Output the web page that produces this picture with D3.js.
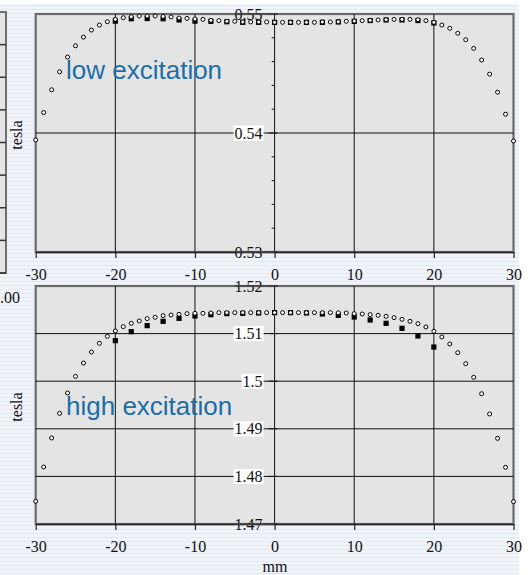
<!DOCTYPE html>
<html>
<head>
<meta charset="utf-8">
<script src="https://cdn.jsdelivr.net/npm/d3@7"></script>
<style>
  body { margin: 0; background: #fff; }
  svg { display: block; }
</style>
</head>
<body>
<div id="chartArea"></div>
<script>
// positions along the gap, mm
var mmAll = [-30, -29, -28, -27, -26, -25, -24, -23, -22, -21, -20, -19, -18, -17, -16, -15, -14, -13, -12, -11,
  -10, -9, -8, -7, -6, -5, -4, -3, -2, -1, 0, 1, 2, 3, 4, 5, 6, 7, 8, 9,
  10, 11, 12, 13, 14, 15, 16, 17, 18, 19, 20, 21, 22, 23, 24, 25, 26, 27, 28, 29, 30];
var mmEven = [-20, -18, -16, -14, -12, -10, -8, -6, -4, -2, 0, 2, 4, 6, 8, 10, 12, 14, 16, 18, 20];

// low excitation, tesla
var lowCircles = [0.53942, 0.54172, 0.54363, 0.54514, 0.54638, 0.54733, 0.54806, 0.54865, 0.54907, 0.54935,
  0.54955, 0.54969, 0.54977, 0.54983, 0.54983, 0.54983, 0.54980, 0.54975, 0.54966, 0.54963,
  0.54958, 0.54955, 0.54947, 0.54944, 0.54939, 0.54939, 0.54933, 0.54933, 0.54933, 0.54933,
  0.54930, 0.54930, 0.54930, 0.54930, 0.54930, 0.54930, 0.54933, 0.54933, 0.54935, 0.54939,
  0.54941, 0.54944, 0.54947, 0.54950, 0.54952, 0.54955, 0.54955, 0.54955, 0.54952, 0.54944,
  0.54930, 0.54907, 0.54880, 0.54838, 0.54784, 0.54711, 0.54613, 0.54495, 0.54343, 0.54158, 0.53933];
var lowSquares = [0.5494, 0.5496, 0.54962, 0.5496, 0.5495, 0.5494, 0.54938, 0.54935, 0.5493, 0.5493, 0.5493,
  0.5493, 0.5493, 0.5493, 0.54933, 0.54938, 0.54945, 0.5495, 0.5495, 0.54945, 0.54925];

// high excitation, tesla
var highCircles = [1.47477, 1.48197, 1.48807, 1.49325, 1.49752, 1.50102, 1.50382, 1.50613, 1.50796, 1.50943,
  1.51055, 1.51146, 1.51216, 1.51265, 1.51314, 1.51342, 1.51377, 1.51391, 1.51405, 1.51419,
  1.51426, 1.51426, 1.51433, 1.5144, 1.5144, 1.5144, 1.5144, 1.5144, 1.5144, 1.5144,
  1.5144, 1.5144, 1.5144, 1.5144, 1.5144, 1.5144, 1.5144, 1.5144, 1.51437, 1.51433,
  1.51419, 1.51412, 1.51398, 1.51384, 1.51363, 1.51335, 1.513, 1.51258, 1.51209, 1.51139,
  1.51048, 1.50929, 1.50782, 1.50599, 1.50368, 1.50082, 1.49737, 1.49311, 1.488, 1.48191, 1.47469];
var highSquares = [1.50852, 1.5104, 1.51167, 1.51258, 1.51321, 1.5137, 1.51398, 1.5142, 1.51426, 1.51433, 1.5144,
  1.5144, 1.51433, 1.51412, 1.51384, 1.51349, 1.51286, 1.51216, 1.51111, 1.5095, 1.50718];

var xTicks = [-30, -20, -10, 0, 10, 20, 30];
var xGrid = [-20, -10, 10, 20];
var lowTicks = [0.53, 0.54, 0.55];
var lowTickLabels = ["0.53", "0.54", "0.55"];
var lowMinor = [0.532, 0.534, 0.536, 0.538, 0.542, 0.544, 0.546, 0.548];
var lowGrid = [0.54];
var highTicks = [1.47, 1.48, 1.49, 1.5, 1.51, 1.52];
var highTickLabels = ["1.47", "1.48", "1.49", "1.5", "1.51", "1.52"];
var highGrid = [1.48, 1.49, 1.5, 1.51];

var W = 529, H = 575;
var serif = "'Liberation Serif', 'Times New Roman', serif";

var svg = d3.select("#chartArea").append("svg").attr("width", W).attr("height", H);

// striped page background
var pat = svg.append("defs").append("pattern")
  .attr("id", "stripes").attr("patternUnits", "userSpaceOnUse")
  .attr("width", 8).attr("height", 4);
pat.append("rect").attr("width", 8).attr("height", 4).attr("fill", "#f1f3f6");
pat.append("rect").attr("y", 1).attr("width", 8).attr("height", 1).attr("fill", "#dfeaf7");

svg.append("rect").attr("width", W).attr("height", H).attr("fill", "#fff");
svg.append("rect").attr("y", 4).attr("width", 519).attr("height", H - 4).attr("fill", "url(#stripes)");

// edge of the neighbouring chart, cut off on the left
var leftY = d3.scaleLinear().domain([0, 8]).range([12, 273]);
svg.append("rect").attr("x", -10).attr("y", 12).attr("width", 16).attr("height", 261)
  .attr("fill", "#e4e4e4").attr("stroke", "#6e6e6e").attr("stroke-width", 2);
svg.append("g").selectAll("line").data([1, 2, 3, 4, 5, 6, 7, 8]).enter().append("line")
  .attr("x1", 0).attr("x2", 6)
  .attr("y1", function (d) { return leftY(d); })
  .attr("y2", function (d) { return leftY(d); })
  .attr("stroke", "#333").attr("stroke-width", 1.5);
svg.append("text").attr("x", 0).attr("y", 303)
  .style("font-family", serif).style("font-size", "16px").attr("fill", "#111").text(".00");

var x = d3.scaleLinear().domain([-30, 30]).range([35.7, 513.5]);

function drawPanel(cfg) {
  var y = d3.scaleLinear().domain(cfg.domain).range([cfg.bottom, cfg.top]);
  var g = svg.append("g");

  g.append("rect")
    .attr("x", x(-30)).attr("y", cfg.top)
    .attr("width", x(30) - x(-30)).attr("height", cfg.bottom - cfg.top)
    .attr("fill", "#e4e4e4").attr("stroke", "#6a6a6a").attr("stroke-width", 2.2);

  // grid
  g.selectAll(".vgrid").data(xGrid).enter().append("line")
    .attr("x1", function (d) { return x(d); }).attr("x2", function (d) { return x(d); })
    .attr("y1", cfg.top).attr("y2", cfg.bottom)
    .attr("stroke", "#111").attr("stroke-width", 1);
  g.selectAll(".hgrid").data(cfg.grid).enter().append("line")
    .attr("x1", x(-30)).attr("x2", x(30))
    .attr("y1", function (d) { return y(d); }).attr("y2", function (d) { return y(d); })
    .attr("stroke", "#111").attr("stroke-width", 1);

  // y axis through x = 0
  g.append("line").attr("x1", x(0)).attr("x2", x(0))
    .attr("y1", cfg.top).attr("y2", cfg.bottom).attr("stroke", "#111");
  g.selectAll(".minor").data(cfg.minor).enter().append("line")
    .attr("x1", x(0) - 3).attr("x2", x(0))
    .attr("y1", function (d) { return y(d); }).attr("y2", function (d) { return y(d); })
    .attr("stroke", "#111");
  g.selectAll(".major").data(cfg.ticks).enter().append("line")
    .attr("x1", x(0) - 6).attr("x2", x(0) + 3)
    .attr("y1", function (d) { return y(d); }).attr("y2", function (d) { return y(d); })
    .attr("stroke", "#111");

  // x axis at bottom
  var xAxis = d3.axisBottom(x).tickValues(xTicks).tickSize(6).tickSizeOuter(0)
    .tickFormat(function (d) { return d; });
  var ax = g.append("g").attr("transform", "translate(0," + cfg.bottom + ")").call(xAxis);
  ax.select(".domain").attr("stroke", "#222").attr("stroke-width", 1.5);
  ax.selectAll(".tick line").attr("stroke", "#222").attr("stroke-width", 1.2);
  ax.selectAll(".tick text").attr("y", 23).attr("dy", "0.32em")
    .style("font-family", serif).style("font-size", "16px").attr("fill", "#111")
    .text(function (d) { return d < 0 ? "-" + Math.abs(d) : d; });

  // points: squares under circles
  g.selectAll(".sq").data(cfg.squares).enter().append("rect")
    .attr("x", function (d, i) { return x(mmEven[i]) - 2.6; })
    .attr("y", function (d) { return y(d) - 2.6; })
    .attr("width", 5.2).attr("height", 5.2).attr("fill", "#000");
  g.selectAll(".ci").data(cfg.circles).enter().append("circle")
    .attr("cx", function (d, i) { return x(mmAll[i]); })
    .attr("cy", function (d) { return y(d); })
    .attr("r", 2).attr("fill", "#fff").attr("stroke", "#000").attr("stroke-width", 1);

  // y tick labels with white boxes
  cfg.ticks.forEach(function (t, i) {
    var edge = (i === 0 || i === cfg.ticks.length - 1);
    var lab = g.append("g");
    var txt = lab.append("text").attr("x", x(0) - 12).attr("y", y(t)).attr("dy", "0.35em")
      .attr("text-anchor", "end").style("font-family", serif).style("font-size", "16px")
      .attr("fill", "#111").text(cfg.labels[i]);
    if (!edge) {
      var bb = txt.node().getBBox();
      lab.insert("rect", "text").attr("x", bb.x - 1).attr("y", bb.y + 1)
        .attr("width", bb.width + 2).attr("height", bb.height - 2).attr("fill", "#fff");
    } else {
      lab.append("line").attr("x1", x(0) - 40).attr("x2", x(0))
        .attr("y1", y(t)).attr("y2", y(t)).attr("stroke", "#444").attr("stroke-width", 1.5);
    }
  });

  g.append("text").attr("transform", "translate(" + 22 + "," + ((cfg.top + cfg.bottom) / 2 + 2) + ") rotate(-90)")
    .attr("text-anchor", "middle").style("font-family", serif).style("font-size", "16px")
    .attr("fill", "#111").text("tesla");

  g.append("text").attr("x", 66).attr("y", cfg.titleY)
    .style("font-family", "'Liberation Sans', Arial, sans-serif").style("font-size", "26px")
    .attr("fill", "#1b6ea6").text(cfg.title);
}

drawPanel({
  domain: [0.53, 0.55], top: 14, bottom: 252,
  ticks: lowTicks, labels: lowTickLabels, minor: lowMinor, grid: lowGrid,
  circles: lowCircles, squares: lowSquares, title: "low excitation", titleY: 79
});
drawPanel({
  domain: [1.47, 1.52], top: 286, bottom: 524,
  ticks: highTicks, labels: highTickLabels, minor: [], grid: highGrid,
  circles: highCircles, squares: highSquares, title: "high excitation", titleY: 415
});

svg.append("text").attr("x", 275).attr("y", 572).attr("text-anchor", "middle")
  .style("font-family", serif).style("font-size", "16px").attr("fill", "#111").text("mm");
</script>
</body>
</html>
